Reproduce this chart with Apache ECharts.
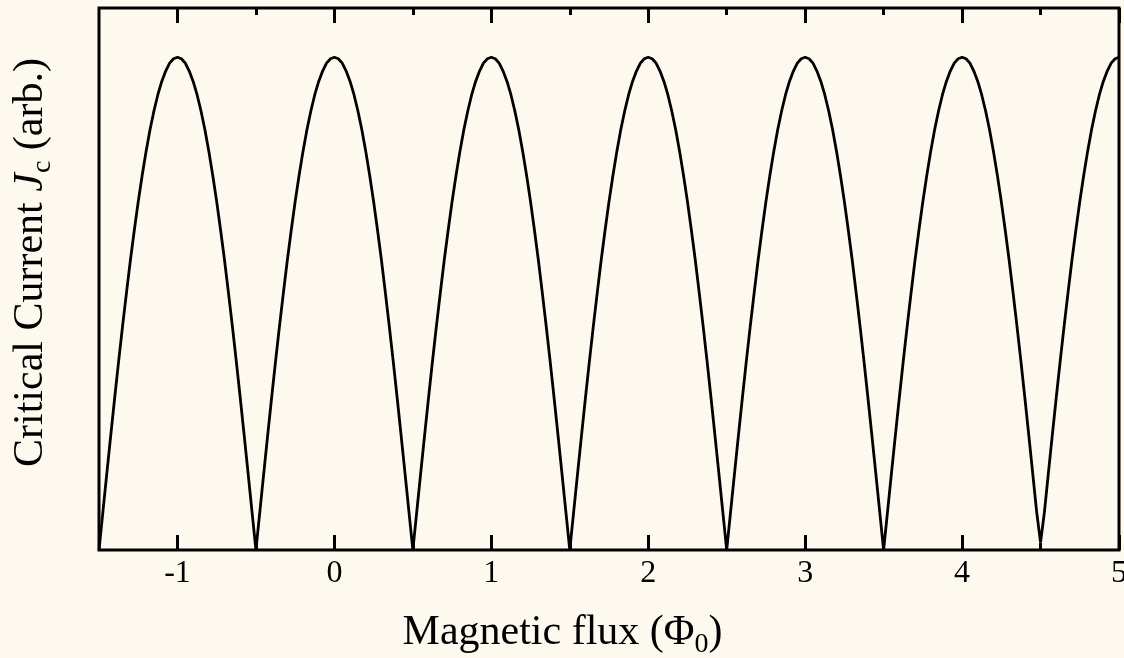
<!DOCTYPE html>
<html>
<head>
<meta charset="utf-8">
<script src="https://cdn.jsdelivr.net/npm/echarts@6/dist/echarts.min.js"></script>
<style>
html, body { margin: 0; padding: 0; background: #fdf9ef; }
#main { width: 1124px; height: 658px; }
</style>
</head>
<body>
<div id="main"></div>
<script>
// 磁通 (Φ0)
var fluxValues = [
	-1.5, -1.475, -1.45, -1.425, -1.4, -1.375, -1.35, -1.325, -1.3, -1.275,
	-1.25, -1.225, -1.2, -1.175, -1.15, -1.125, -1.1, -1.075, -1.05, -1.025,
	-1.0, -0.975, -0.95, -0.925, -0.9, -0.875, -0.85, -0.825, -0.8, -0.775,
	-0.75, -0.725, -0.7, -0.675, -0.65, -0.625, -0.6, -0.575, -0.55, -0.525,
	-0.5, -0.475, -0.45, -0.425, -0.4, -0.375, -0.35, -0.325, -0.3, -0.275,
	-0.25, -0.225, -0.2, -0.175, -0.15, -0.125, -0.1, -0.075, -0.05, -0.025,
	0.0, 0.025, 0.05, 0.075, 0.1, 0.125, 0.15, 0.175, 0.2, 0.225,
	0.25, 0.275, 0.3, 0.325, 0.35, 0.375, 0.4, 0.425, 0.45, 0.475,
	0.5, 0.525, 0.55, 0.575, 0.6, 0.625, 0.65, 0.675, 0.7, 0.725,
	0.75, 0.775, 0.8, 0.825, 0.85, 0.875, 0.9, 0.925, 0.95, 0.975,
	1.0, 1.025, 1.05, 1.075, 1.1, 1.125, 1.15, 1.175, 1.2, 1.225,
	1.25, 1.275, 1.3, 1.325, 1.35, 1.375, 1.4, 1.425, 1.45, 1.475,
	1.5, 1.525, 1.55, 1.575, 1.6, 1.625, 1.65, 1.675, 1.7, 1.725,
	1.75, 1.775, 1.8, 1.825, 1.85, 1.875, 1.9, 1.925, 1.95, 1.975,
	2.0, 2.025, 2.05, 2.075, 2.1, 2.125, 2.15, 2.175, 2.2, 2.225,
	2.25, 2.275, 2.3, 2.325, 2.35, 2.375, 2.4, 2.425, 2.45, 2.475,
	2.5, 2.525, 2.55, 2.575, 2.6, 2.625, 2.65, 2.675, 2.7, 2.725,
	2.75, 2.775, 2.8, 2.825, 2.85, 2.875, 2.9, 2.925, 2.95, 2.975,
	3.0, 3.025, 3.05, 3.075, 3.1, 3.125, 3.15, 3.175, 3.2, 3.225,
	3.25, 3.275, 3.3, 3.325, 3.35, 3.375, 3.4, 3.425, 3.45, 3.475,
	3.5, 3.525, 3.55, 3.575, 3.6, 3.625, 3.65, 3.675, 3.7, 3.725,
	3.75, 3.775, 3.8, 3.825, 3.85, 3.875, 3.9, 3.925, 3.95, 3.975,
	4.0, 4.025, 4.05, 4.075, 4.1, 4.125, 4.15, 4.175, 4.2, 4.225,
	4.25, 4.275, 4.3, 4.325, 4.35, 4.375, 4.4, 4.425, 4.45, 4.475,
	4.5, 4.525, 4.55, 4.575, 4.6, 4.625, 4.65, 4.675, 4.7, 4.725,
	4.75, 4.775, 4.8, 4.825, 4.85, 4.875, 4.9, 4.925, 4.95, 4.975,
	5.0
];
// 临界电流 Jc (arb.)
var currentValues = [
	0.000, 0.078, 0.156, 0.233, 0.309, 0.383, 0.454, 0.522, 0.588, 0.649,
	0.707, 0.760, 0.809, 0.853, 0.891, 0.924, 0.951, 0.972, 0.988, 0.997,
	1.000, 0.997, 0.988, 0.972, 0.951, 0.924, 0.891, 0.853, 0.809, 0.760,
	0.707, 0.649, 0.588, 0.522, 0.454, 0.383, 0.309, 0.233, 0.156, 0.078,
	0.000, 0.078, 0.156, 0.233, 0.309, 0.383, 0.454, 0.522, 0.588, 0.649,
	0.707, 0.760, 0.809, 0.853, 0.891, 0.924, 0.951, 0.972, 0.988, 0.997,
	1.000, 0.997, 0.988, 0.972, 0.951, 0.924, 0.891, 0.853, 0.809, 0.760,
	0.707, 0.649, 0.588, 0.522, 0.454, 0.383, 0.309, 0.233, 0.156, 0.078,
	0.000, 0.078, 0.156, 0.233, 0.309, 0.383, 0.454, 0.522, 0.588, 0.649,
	0.707, 0.760, 0.809, 0.853, 0.891, 0.924, 0.951, 0.972, 0.988, 0.997,
	1.000, 0.997, 0.988, 0.972, 0.951, 0.924, 0.891, 0.853, 0.809, 0.760,
	0.707, 0.649, 0.588, 0.522, 0.454, 0.383, 0.309, 0.233, 0.156, 0.078,
	0.000, 0.078, 0.156, 0.233, 0.309, 0.383, 0.454, 0.522, 0.588, 0.649,
	0.707, 0.760, 0.809, 0.853, 0.891, 0.924, 0.951, 0.972, 0.988, 0.997,
	1.000, 0.997, 0.988, 0.972, 0.951, 0.924, 0.891, 0.853, 0.809, 0.760,
	0.707, 0.649, 0.588, 0.522, 0.454, 0.383, 0.309, 0.233, 0.156, 0.078,
	0.000, 0.078, 0.156, 0.233, 0.309, 0.383, 0.454, 0.522, 0.588, 0.649,
	0.707, 0.760, 0.809, 0.853, 0.891, 0.924, 0.951, 0.972, 0.988, 0.997,
	1.000, 0.997, 0.988, 0.972, 0.951, 0.924, 0.891, 0.853, 0.809, 0.760,
	0.707, 0.649, 0.588, 0.522, 0.454, 0.383, 0.309, 0.233, 0.156, 0.078,
	0.000, 0.078, 0.156, 0.233, 0.309, 0.383, 0.454, 0.522, 0.588, 0.649,
	0.707, 0.760, 0.809, 0.853, 0.891, 0.924, 0.951, 0.972, 0.988, 0.997,
	1.000, 0.997, 0.988, 0.972, 0.951, 0.924, 0.891, 0.853, 0.809, 0.760,
	0.707, 0.649, 0.588, 0.522, 0.454, 0.383, 0.309, 0.233, 0.156, 0.078,
	0.015, 0.078, 0.156, 0.233, 0.309, 0.383, 0.454, 0.522, 0.588, 0.649,
	0.707, 0.760, 0.809, 0.853, 0.891, 0.924, 0.951, 0.972, 0.988, 0.997,
	1.000
];
var majorTicks = [-1, 0, 1, 2, 3, 4, 5];
var minorTicks = [-0.5, 0.5, 1.5, 2.5, 3.5, 4.5];

var fontFamily = '"Liberation Serif", "DejaVu Serif", serif';

// 坐标轴：只画刻度，边框由 grid 画
function tickAxis(position, values, len, labels) {
	return {
		type: 'value',
		position: position,
		min: -1.5,
		max: 5,
		axisLine: { show: false },
		splitLine: { show: false },
		axisTick: {
			show: true,
			inside: true,
			length: len,
			customValues: values,
			lineStyle: { color: '#000', width: 3 }
		},
		axisLabel: {
			show: labels,
			customValues: values,
			margin: 8,
			color: '#000',
			fontSize: 32,
			fontFamily: fontFamily,
			showMaxLabel: true,
			hideOverlap: false
		}
	};
}

var myChart = echarts.init(document.getElementById('main'));

var xBottom = tickAxis('bottom', majorTicks, 15, true);
xBottom.name = '{a|Magnetic flux (Φ}{s|0}{a|)}';
xBottom.nameLocation = 'middle';
xBottom.nameGap = 57;
xBottom.nameTextStyle = {
	padding: [0, 93, 0, 0],
	rich: {
		a: { fontSize: 42, fontFamily: fontFamily, color: '#000', lineHeight: 52, verticalAlign: 'middle' },
		s: { fontSize: 28, fontFamily: fontFamily, color: '#000', lineHeight: 28, verticalAlign: 'bottom' }
	}
};

var option = {
	backgroundColor: '#fdf9ef',
	animation: false,
	grid: {
		left: 99,
		right: 5,
		top: 8,
		bottom: 108,
		containLabel: false,
		outerBoundsMode: 'none',
		show: true,
		borderColor: '#000',
		borderWidth: 3,
		backgroundColor: 'transparent'
	},
	xAxis: [
		xBottom,
		tickAxis('bottom', minorTicks, 7, false),
		tickAxis('top', majorTicks, 15, false),
		tickAxis('top', minorTicks, 7, false)
	],
	yAxis: {
		type: 'value',
		min: 0,
		max: 1.1,
		axisLine: { show: false },
		axisTick: { show: false },
		axisLabel: { show: false },
		splitLine: { show: false },
		name: '{a|Critical Current }{i|J}{s|c}{a| (arb.)}',
		nameLocation: 'middle',
		nameGap: 42,
		nameTextStyle: {
			padding: [0, 0, 0, 33],
			rich: {
				a: { fontSize: 42, fontFamily: fontFamily, color: '#000', lineHeight: 52, verticalAlign: 'middle' },
				i: { fontSize: 42, fontFamily: fontFamily, fontStyle: 'italic', color: '#000', lineHeight: 52, verticalAlign: 'middle' },
				s: { fontSize: 28, fontFamily: fontFamily, color: '#000', lineHeight: 28, verticalAlign: 'bottom' }
			}
		}
	},
	series: [{
		type: 'line',
		xAxisIndex: 0,
		yAxisIndex: 0,
		showSymbol: false,
		silent: true,
		lineStyle: { color: '#000', width: 2.8 },
		data: fluxValues.map(function(x, i) {
			return [x, currentValues[i]];
		})
	}]
};

myChart.setOption(option);
</script>
</body>
</html>
